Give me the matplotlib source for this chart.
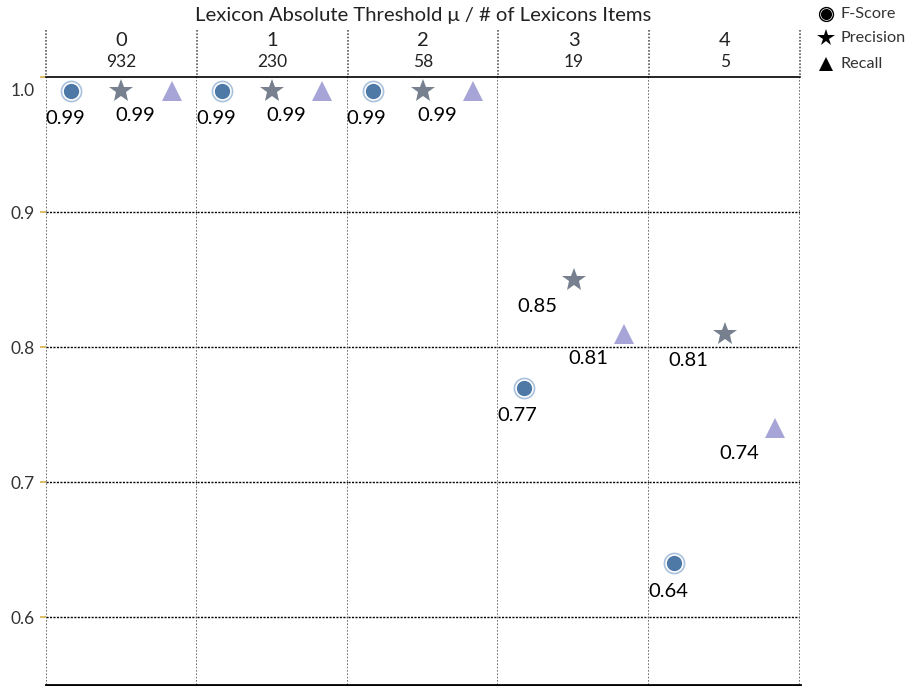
import matplotlib
matplotlib.use('Agg')
from matplotlib import pyplot as plt
from matplotlib.lines import Line2D
from matplotlib.transforms import ScaledTranslation

plt.rcParams['font.family'] = ['Lato', 'DejaVu Sans']

# data
thresholds = ['0', '1', '2', '3', '4']
n_items = ['932', '230', '58', '19', '5']
measures = ['F-Score', 'Precision', 'Recall']
fscore = [0.99, 0.99, 0.99, 0.77, 0.64]
precision = [0.99, 0.99, 0.99, 0.85, 0.81]
recall = [0.99, 0.99, 0.99, 0.81, 0.74]
# labels shown in the original (precision hidden where it overlaps)
show_f = [True, True, True, True, True]
show_p = [False, False, False, True, True]
show_r = [True, True, True, True, True]

W, H = 909, 686
fig = plt.figure(figsize=(W/100, H/100), dpi=100)

def fx(x):
    return x/W
def fy(y):
    return 1 - y/H

left, right, top, bottom = 46, 800, 77, 685
pw = (right-left)/5.

blue = '#4e79a7'
ring = '#a9c1dc'
grey = '#76808e'
lav = '#a7a5d8'
divc = '#5a5a5a'

axes = []
for i in range(5):
    ax = fig.add_axes([fx(left+i*pw), fy(bottom), pw/W, (bottom-top)/H],
                      sharey=axes[0] if axes else None)
    axes.append(ax)
    ax.set_xlim(-0.5, 2.5)
    ax.set_ylim(0.55, 1.0)
    ax.set_xticks([])
    ax.set_yticks([0.6, 0.7, 0.8, 0.9, 1.0])
    for yv in [0.6, 0.7, 0.8, 0.9]:
        ax.axhline(yv, color='black', lw=1, dashes=(1.5, 1), zorder=0)
    ax.spines['top'].set_linewidth(1.2)
    ax.spines['top'].set_color('black')
    ax.spines['bottom'].set_linewidth(2)
    ax.spines['bottom'].set_color('black')
    ax.spines['left'].set_visible(False)
    ax.spines['right'].set_visible(False)
    ax.axvline(2.5, color=divc, lw=1.2, dashes=(1, 1), zorder=0)
    if i > 0:
        ax.tick_params(axis='y', left=False, labelleft=False)
    else:
        ax.axvline(-0.5, color=divc, lw=1.2, dashes=(1, 1), zorder=0)
        ax.tick_params(axis='y', length=4, width=1.2, color='#d4b24c', labelsize=12.5,
                       labelcolor='#333333', pad=4)
        ax.set_yticklabels(['0.6', '0.7', '0.8', '0.9', '1.0'])

    # circle with ring
    ax.plot(0, fscore[i], 'o', ms=14.5, mfc='white', mec=ring, mew=1.2)
    ax.plot(0, fscore[i], 'o', ms=10, color=blue)
    ax.plot(1, precision[i], '*', ms=18, color=grey, mew=0)
    ax.plot(2, recall[i], '^', ms=14.5, color=lav, mew=0)

    lab = dict(fontsize=14.5, color='black', ha='center', va='center',
               textcoords='offset pixels', xycoords='data')
    if show_f[i]:
        ax.annotate('%.2f' % fscore[i], (0, fscore[i]), xytext=(-6, -28), **lab)
    if show_p[i]:
        ax.annotate('%.2f' % precision[i], (1, precision[i]), xytext=(-36, -27), **lab)
    if show_r[i]:
        ax.annotate('%.2f' % recall[i], (2, recall[i]), xytext=(-36, -25), **lab)

    # column header
    fig.text(fx(left+(i+0.5)*pw), fy(40), thresholds[i], ha='center', va='center',
             fontsize=14.5, color='#222222')
    fig.text(fx(left+(i+0.5)*pw), fy(62), n_items[i], ha='center', va='center',
             fontsize=12.5, color='#222222')

# push the 1.0 label down like tableau does
for t in axes[0].get_yticklabels():
    if t.get_text() == '1.0':
        t.set_transform(t.get_transform() + ScaledTranslation(0, -12/100., fig.dpi_scale_trans))

# dotted lines in the header row
for i in range(6):
    x = fx(left+i*pw)
    fig.add_artist(Line2D([x, x], [fy(30), fy(77)], transform=fig.transFigure,
                          dashes=(1, 1), color=divc, lw=1.2))

fig.text(fx((left+right)/2.), fy(15), 'Lexicon Absolute Threshold \u03bc / # of Lexicons Items',
         ha='center', va='center', fontsize=14.6, color='#222222')

# legend
leg_y = [14, 38, 64]
fig.add_artist(Line2D([fx(826)], [fy(leg_y[0])], marker='o', ms=10, mfc='white',
                      mec='black', mew=1, transform=fig.transFigure))
fig.add_artist(Line2D([fx(826)], [fy(leg_y[0])], marker='o', ms=7, color='black',
                      transform=fig.transFigure))
fig.add_artist(Line2D([fx(826)], [fy(leg_y[1])], marker='*', ms=13, color='black',
                      mew=0, transform=fig.transFigure))
fig.add_artist(Line2D([fx(826)], [fy(leg_y[2])], marker='^', ms=10, color='black',
                      mew=0, transform=fig.transFigure))
for m, yy in zip(measures, leg_y):
    fig.text(fx(841), fy(yy), m, ha='left', va='center', fontsize=11.7, color='#333333')

plt.savefig('out.png', dpi=100)
